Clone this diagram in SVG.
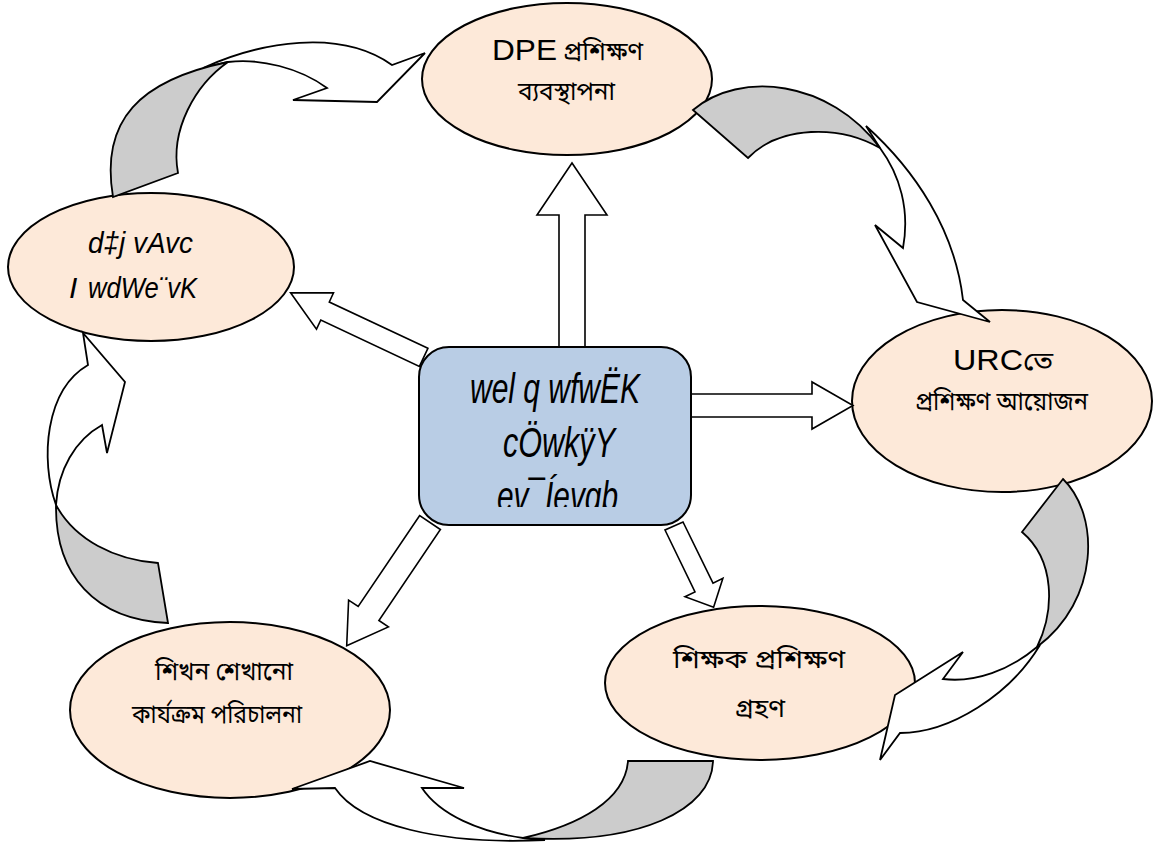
<svg xmlns="http://www.w3.org/2000/svg" width="1154" height="848" viewBox="0 0 1154 848">
<style>
.ell{fill:#FDE9D9;stroke:#000;stroke-width:2}
.box{fill:#B9CDE5;stroke:#000;stroke-width:2}
.wa{fill:#FFFFFF;stroke:#000;stroke-width:1.8;stroke-linejoin:miter}
.ga{fill:#CCCCCC;stroke:#000;stroke-width:1.8;stroke-linejoin:miter}
.sa{fill:#FFFFFF;stroke:#000;stroke-width:1.6;stroke-linejoin:miter}
.lat{font-family:"Liberation Sans",Arial,sans-serif;font-size:30px;fill:#000}
.bn{font-family:"Noto Sans Bengali","Noto Serif Bengali","Lohit Bengali","Noto Sans",sans-serif;font-size:25px;fill:#000}
.sut{font-family:"Liberation Sans",Arial,sans-serif;font-style:italic;fill:#000}
</style>
<defs>
<clipPath id="boxclip"><rect x="419" y="347" width="272" height="160"/></clipPath>
</defs>
<rect width="1154" height="848" fill="#FFFFFF"/>

<g id="node-dpe">
<ellipse class="ell" cx="567" cy="79" rx="145" ry="76"/>
<text class="lat" x="492" y="60" textLength="65" lengthAdjust="spacingAndGlyphs">DPE</text>
<text class="bn" x="563" y="60" textLength="80" lengthAdjust="spacingAndGlyphs">প্রশিক্ষণ</text>
<text class="bn" x="518" y="100" textLength="97" lengthAdjust="spacingAndGlyphs">ব্যবস্থাপনা</text>
</g>

<g id="node-urc">
<ellipse class="ell" cx="1002" cy="401" rx="150" ry="91"/>
<text class="lat" x="953" y="370" textLength="70" lengthAdjust="spacingAndGlyphs">URC</text>
<text class="bn" x="1023" y="370" textLength="30" lengthAdjust="spacingAndGlyphs">তে</text>
<text class="bn" x="915" y="410" textLength="173" lengthAdjust="spacingAndGlyphs">প্রশিক্ষণ আয়োজন</text>
</g>

<g id="node-teacher">
<ellipse class="ell" cx="760" cy="683" rx="155" ry="77"/>
<text class="bn" x="673" y="668" textLength="172" lengthAdjust="spacingAndGlyphs">শিক্ষক প্রশিক্ষণ</text>
<text class="bn" x="735" y="717" textLength="50" lengthAdjust="spacingAndGlyphs">গ্রহণ</text>
</g>

<g id="node-learning">
<ellipse class="ell" cx="230" cy="710" rx="160" ry="88"/>
<text class="bn" x="155" y="680" textLength="138" lengthAdjust="spacingAndGlyphs">শিখন শেখানো</text>
<text class="bn" x="132" y="723" textLength="170" lengthAdjust="spacingAndGlyphs">কার্যক্রম পরিচালনা</text>
</g>

<g id="node-followup">
<ellipse class="ell" cx="151" cy="267" rx="143" ry="74"/>
<text class="sut" font-size="30" x="88" y="253" textLength="105" lengthAdjust="spacingAndGlyphs">d‡j vAvc</text>
<text class="sut" font-size="30" x="69" y="298">I</text>
<text class="sut" font-size="30" x="88" y="298" textLength="109" lengthAdjust="spacingAndGlyphs">wdWe¨vK</text>
</g>

<g id="connectors">
<path class="wa" d="M203,68 C260,42 340,28 392,65 L425,53 L377,102 L293,100 L327,88 C300,68 260,58 228,62 Z"/>
<path class="ga" d="M113,197 C100,120 140,80 228,62 C195,85 170,130 178,173 Z"/>
<path class="wa" d="M866,126 C915,170 955,230 963,300 L990,322 L917,302 L875,225 L903,248 C910,210 900,175 880,148 Z"/>
<path class="ga" d="M693,110 C740,70 830,80 880,148 C840,125 780,125 748,158 Z"/>
<path class="wa" d="M1040,645 C1010,695 950,733 900,733 L880,760 L895,695 L963,652 L943,679 C975,683 1010,670 1037,647 Z"/>
<path class="ga" d="M1022,532 L1063,479 C1100,515 1100,600 1037,647 C1055,610 1055,560 1022,532 Z"/>
<path class="wa" d="M545,840 C440,845 360,825 335,788 L292,789 L370,761 L464,788 L422,788 C440,815 480,832 523,838 Z"/>
<path class="ga" d="M628,761 L713,761 C712,810 640,845 523,838 C580,825 625,800 628,761 Z"/>
<path class="wa" d="M56,505 C40,460 45,390 88,365 L83,333 L125,382 L107,453 L102,425 C75,440 58,470 56,505 Z"/>
<path class="ga" d="M168,623 L158,563 C115,560 75,540 56,505 C55,575 95,620 168,623 Z"/>

<polygon class="sa" points="559,352 559,215 537,215 572,163 607,215 585,215 585,352"/>
<polygon class="sa" points="686,394 812,394 812,382 853,405.5 812,429 812,417 686,417"/>
<polygon class="sa" points="427.9,348.3 329.3,302 333.5,292.9 290.6,292.8 316.5,329.1 320.8,320 419.4,366.4"/>
<polygon class="sa" points="419.7,515.5 358.2,606.5 348.6,600.1 346.7,645.8 388.4,626.9 378.9,620.5 440.4,529.5"/>
<polygon class="sa" points="665,530 695,591.9 685,596.7 713.6,607.3 722.9,578.3 713,583.1 683,522"/>
</g>

<g id="node-center">
<rect class="box" x="419" y="347" width="272" height="178" rx="30" ry="30"/>
<text class="sut" font-size="42" x="470" y="403" textLength="170" lengthAdjust="spacingAndGlyphs">wel q wfwËK</text>
<text class="sut" font-size="42" x="503" y="457" textLength="112" lengthAdjust="spacingAndGlyphs">cÖwkÿY</text>
<text class="sut" font-size="42" x="497" y="511" textLength="121" lengthAdjust="spacingAndGlyphs" clip-path="url(#boxclip)">ev¯Íevqb</text>
</g>
</svg>
